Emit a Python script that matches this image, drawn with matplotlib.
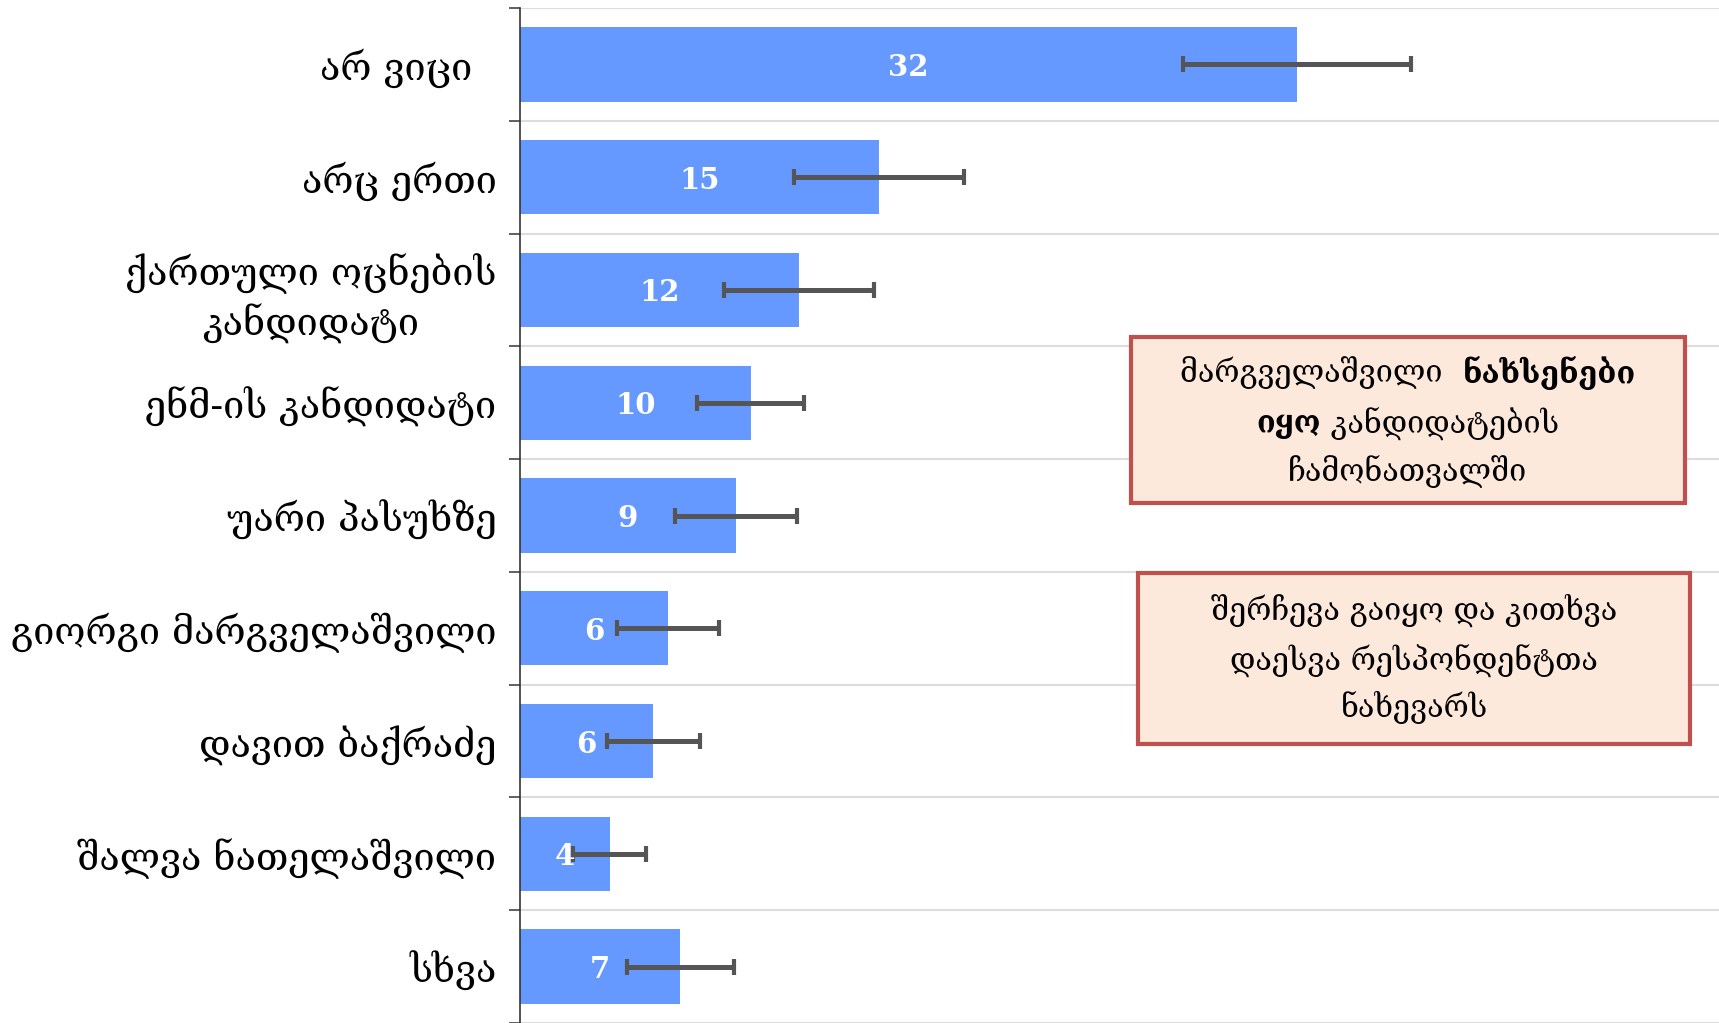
import matplotlib
matplotlib.use('agg')
import matplotlib.pyplot as plt
import numpy as np
from matplotlib.patches import Rectangle

# data, top to bottom
labels = ["არ ვიცი  ", "არც ერთი", "ქართული ოცნების\nკანდიდატი", "ენმ-ის კანდიდატი",
          "უარი პასუხზე", "გიორგი მარგველაშვილი", "დავით ბაქრაძე",
          "შალვა ნათელაშვილი", "სხვა"]
values = [32.0, 14.8, 11.5, 9.5, 8.9, 6.1, 5.5, 3.7, 6.6]
value_text = ["32", "15", "12", "10", "9", "6", "6", "4", "7"]
errors = [4.7, 3.5, 3.1, 2.2, 2.5, 2.1, 1.9, 1.5, 2.2]

note1 = [[("მარგველაშვილი  ", "normal"), ("ნახსენები", "bold")],
         [("იყო", "bold"), (" კანდიდატების", "normal")],
         [("ჩამონათვალში", "normal")]]
note2 = [[("შერჩევა გაიყო და კითხვა", "normal")],
         [("დაესვა რესპონდენტთა", "normal")],
         [("ნახევარს", "normal")]]

# DejaVu Serif has the Georgian glyphs and is closest to the original
plt.rcParams['font.family'] = ['DejaVu Serif', 'DejaVu Sans']

W, H = 1719, 1023
fig = plt.figure(figsize=(W / 100, H / 100), dpi=100)
ax = fig.add_axes([520 / W, 0, 1 - 520 / W, 1 - 8 / H])

n = len(labels)
y = np.arange(n)
ax.barh(y, values, height=0.66, color="#6699ff", zorder=2)
ax.errorbar(values, y, xerr=errors, fmt="none", ecolor="#555555",
            elinewidth=3.6, capsize=6, capthick=3, zorder=3)
for yi, v, t in zip(y, values, value_text):
    ax.text(v / 2, yi, t, color="white", fontsize=21, fontweight="bold",
            ha="center", va="center_baseline", zorder=4)

ax.set_ylim(n - 0.5, -0.5)
ax.set_xlim(0, 49.4)

ax.set_yticks(y)
ax.set_yticklabels(labels, fontsize=27.2)
for lab in ax.get_yticklabels():
    lab.set_multialignment("center")
    lab.set_linespacing(1.3)
ax.tick_params(axis="y", which="major", length=0, pad=17)
ax.set_yticks(np.arange(n + 1) - 0.5, minor=True)
ax.tick_params(axis="y", which="minor", length=8, width=1.2, color="#444444")
ax.grid(axis="y", which="minor", color="#dddddd", linewidth=1.5, zorder=0)
ax.set_xticks([])
for s in ["top", "right", "bottom"]:
    ax.spines[s].set_visible(False)
ax.spines["left"].set_color("#333333")
ax.spines["left"].set_linewidth(1.2)

renderer = fig.canvas.get_renderer()


def note_box(x0, y0, x1, y1, lines, line_ys):
    # box in pixel coords (top-left origin)
    fig.patches.append(Rectangle((x0 / W, 1 - y1 / H), (x1 - x0) / W, (y1 - y0) / H,
                                 transform=fig.transFigure, facecolor="#fde9dc",
                                 edgecolor="#c0504d", linewidth=3, zorder=5))
    xc = (x0 + x1) / 2
    for segs, ly in zip(lines, line_ys):
        texts = [fig.text(0, 1 - ly / H, s, fontsize=22, fontweight=w,
                          va="center", ha="left", zorder=6) for s, w in segs]
        widths = [t.get_window_extent(renderer).width for t in texts]
        x = xc - sum(widths) / 2
        for t, w in zip(texts, widths):
            t.set_x(x / W)
            x += w


note_box(1131, 337, 1685, 503, note1, [373, 423, 471])
note_box(1138, 573, 1690, 744, note2, [610, 660, 707])

fig.savefig("out.png", dpi=100)
